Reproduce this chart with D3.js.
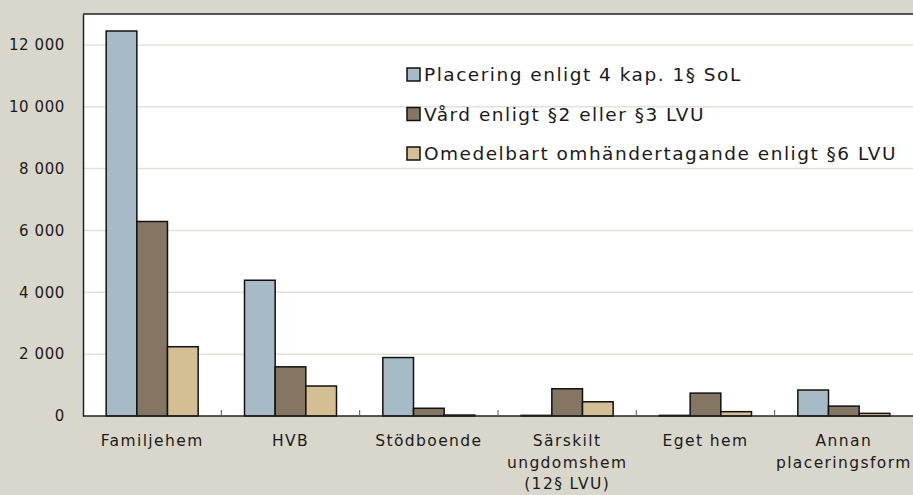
<!DOCTYPE html>
<html>
<head>
<meta charset="utf-8">
<script src="https://cdn.jsdelivr.net/npm/d3@7"></script>
<style>
  html, body { margin: 0; padding: 0; background: #d9d7cb; }
  svg text { font-family: "DejaVu Sans", sans-serif; fill: #1a1a1a; }
</style>
</head>
<body>
<div id="chart"></div>
<script>
const categories = ["Familjehem", "HVB", "Stödboende", "Särskilt\nungdomshem\n(12§ LVU)", "Eget hem", "Annan\nplaceringsform"];
const seriesNames = ["Placering enligt 4 kap. 1§ SoL", "Vård enligt §2 eller §3 LVU", "Omedelbart omhändertagande enligt §6 LVU"];
const sol = [12450, 4390, 1890, 20, 20, 840];
const lvu = [6290, 1590, 250, 880, 740, 320];
const lvu6 = [2240, 970, 30, 460, 140, 85];
const yTicks = [0, 2000, 4000, 6000, 8000, 10000, 12000];
const colors = ["#a7bbc6", "#857563", "#d4bf95"];

const width = 913, height = 495;
const margin = { top: 14, right: 0, bottom: 79, left: 83 };
const w = width - margin.left - margin.right,
    h = height - margin.top - margin.bottom;

const svg = d3.select("#chart").append("svg")
    .attr("width", width)
    .attr("height", height);

const g = svg.append("g")
    .attr("transform", "translate(" + margin.left + "," + margin.top + ")");

const x0 = d3.scaleBand()
    .domain(categories)
    .range([0, w])
    .paddingInner(0.335)
    .paddingOuter(0.1675);

const x1 = d3.scaleBand()
    .domain(d3.range(seriesNames.length))
    .range([0, x0.bandwidth()]);

const y = d3.scaleLinear()
    .domain([0, 13000])
    .range([h, 0]);

const fmt = d3.formatLocale({ decimal: ",", thousands: "\u00a0", grouping: [3], currency: ["", ""] }).format(",d");

// plot background
g.append("rect")
    .attr("width", w)
    .attr("height", h)
    .attr("fill", "#fff");

// gridlines
g.selectAll(".grid")
    .data(yTicks.filter(d => d > 0))
    .enter().append("line")
    .attr("x1", 0).attr("x2", w)
    .attr("y1", d => y(d)).attr("y2", d => y(d))
    .attr("stroke", "#e3e1d6")
    .attr("stroke-width", 1.5);

// top border
g.append("line")
    .attr("x1", 0).attr("x2", w)
    .attr("y1", 0).attr("y2", 0)
    .attr("stroke", "#222")
    .attr("stroke-width", 1.5);

// bars
const data = [sol, lvu, lvu6];
const groups = g.selectAll(".cat")
    .data(categories)
    .enter().append("g")
    .attr("transform", d => "translate(" + x0(d) + ",0)");

groups.selectAll("rect")
    .data((d, i) => data.map((s, j) => ({ s: j, v: s[i] })))
    .enter().append("rect")
    .attr("x", d => x1(d.s))
    .attr("y", d => y(d.v))
    .attr("width", x1.bandwidth())
    .attr("height", d => h - y(d.v))
    .attr("fill", d => colors[d.s])
    .attr("stroke", "#111")
    .attr("stroke-width", 1.5);

// y axis
const yAxis = g.append("g")
    .call(d3.axisLeft(y).tickValues(yTicks).tickFormat(fmt).tickSize(0).tickPadding(18));
yAxis.select(".domain").attr("stroke", "#222").attr("stroke-width", 1.5);
yAxis.selectAll("text")
    .style("font-size", "15px")
    .style("letter-spacing", "0.6px");

// x axis
const xAxis = g.append("g")
    .attr("transform", "translate(0," + h + ")");
xAxis.append("line")
    .attr("x1", 0).attr("x2", w)
    .attr("stroke", "#222")
    .attr("stroke-width", 1.5);

const step = x0.step();
xAxis.selectAll(".tick")
    .data(d3.range(1, categories.length))
    .enter().append("line")
    .attr("x1", d => x0(categories[d]) - x0.paddingInner() * step / 2)
    .attr("x2", d => x0(categories[d]) - x0.paddingInner() * step / 2)
    .attr("y1", 0).attr("y2", -6)
    .attr("stroke", "#555")
    .attr("stroke-width", 1);

const labels = xAxis.selectAll(".lbl")
    .data(categories)
    .enter().append("text")
    .attr("x", d => x0(d) + x0.bandwidth() / 2)
    .attr("y", 30)
    .attr("text-anchor", "middle")
    .style("font-size", "15.5px")
    .style("letter-spacing", "1.4px");
labels.selectAll("tspan")
    .data(d => d.split("\n"))
    .enter().append("tspan")
    .attr("x", function() { return this.parentNode.getAttribute("x"); })
    .attr("dy", (d, i) => i === 0 ? 0 : 21.5)
    .text(d => d);

// legend
const legend = g.append("g")
    .attr("transform", "translate(324,61)");
const items = legend.selectAll(".item")
    .data(seriesNames)
    .enter().append("g")
    .attr("transform", (d, i) => "translate(0," + i * 39.5 + ")");
items.append("rect")
    .attr("x", 0).attr("y", -7)
    .attr("width", 13).attr("height", 13)
    .attr("fill", (d, i) => colors[i])
    .attr("stroke", "#111")
    .attr("stroke-width", 1.5);
items.append("text")
    .attr("x", 17)
    .attr("y", 0)
    .attr("dy", "0.35em")
    .style("font-size", "18.5px")
    .style("letter-spacing", "1.5px")
    .text(d => d);
</script>
</body>
</html>
